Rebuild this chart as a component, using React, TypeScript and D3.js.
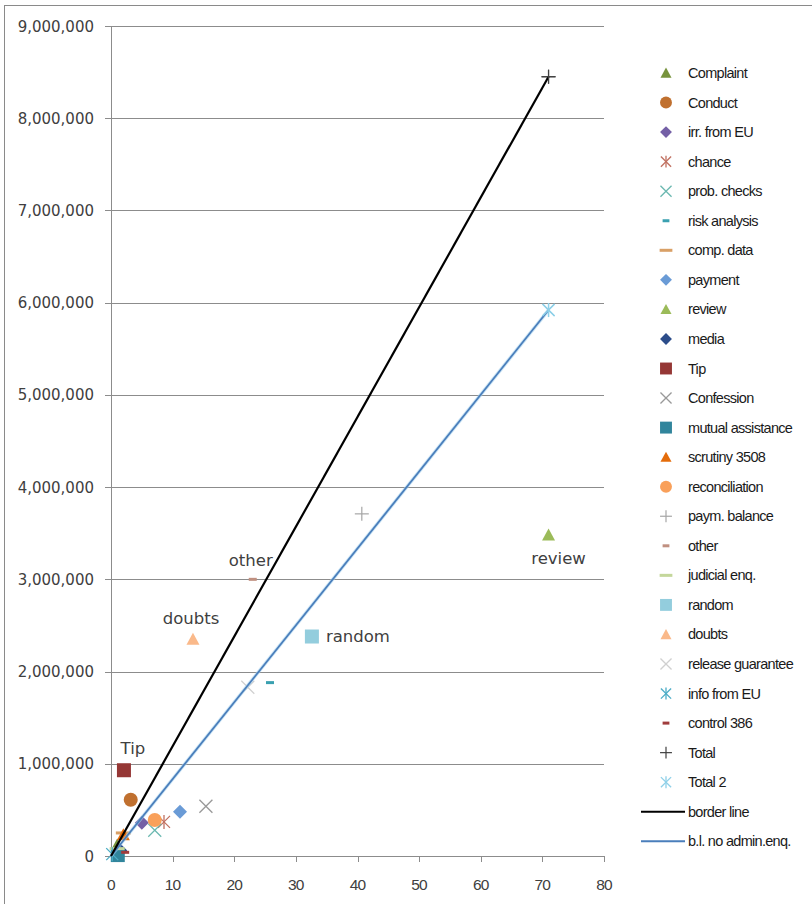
import React, { useEffect } from "react";
import * as d3 from "d3";

// ---------- data ----------
const seriesNames = [
  "Complaint", "Conduct", "irr. from EU", "chance", "prob. checks", "risk analysis",
  "comp. data", "payment", "review", "media", "Tip", "Confession", "mutual assistance",
  "scrutiny 3508", "reconciliation", "paym. balance", "other", "judicial enq.", "random",
  "doubts", "release guarantee", "info from EU", "control 386", "Total", "Total 2",
];
const seriesX = [1, 3.2, 5, 8.6, 7.1, 25.8, 2, 11.2, 71, 1.5, 2.1, 15.4, 1.1, 2, 7.1, 40.7, 23, 1, 32.6, 13.3, 22.2, 0.2, 2.3, 71, 71];
const seriesY = [120000, 610000, 360000, 370000, 280000, 1880000, 250000, 480000, 3480000, 60000, 930000, 540000, 10000, 230000, 390000, 3710000, 3000000, 80000, 2380000, 2350000, 1830000, 20000, 40000, 8450000, 5920000];

const borderLineX = [0, 71];
const borderLineY = [0, 8450000];
const noAdminLineX = [0, 71];
const noAdminLineY = [0, 5920000];

const labelledSeries = ["Tip", "other", "doubts", "random", "review"];

const xTicks = [0, 10, 20, 30, 40, 50, 60, 70, 80];
const yTicks = [0, 1000000, 2000000, 3000000, 4000000, 5000000, 6000000, 7000000, 8000000, 9000000];

// ---------- styles ----------
type Shape = "tri" | "circle" | "diamond" | "ast" | "x" | "sdash" | "ldash" | "square" | "plus";
const styles: Record<string, { shape: Shape; color: string }> = {
  "Complaint": { shape: "tri", color: "#77933c" },
  "Conduct": { shape: "circle", color: "#c0702f" },
  "irr. from EU": { shape: "diamond", color: "#7460a6" },
  "chance": { shape: "ast", color: "#c07060" },
  "prob. checks": { shape: "x", color: "#6ab8b0" },
  "risk analysis": { shape: "sdash", color: "#3aa0b0" },
  "comp. data": { shape: "ldash", color: "#d9a066" },
  "payment": { shape: "diamond", color: "#6a9bd6" },
  "review": { shape: "tri", color: "#9bbb59" },
  "media": { shape: "diamond", color: "#2c4d8a" },
  "Tip": { shape: "square", color: "#953735" },
  "Confession": { shape: "x", color: "#999999" },
  "mutual assistance": { shape: "square", color: "#31859c" },
  "scrutiny 3508": { shape: "tri", color: "#e46c0a" },
  "reconciliation": { shape: "circle", color: "#f9a05a" },
  "paym. balance": { shape: "plus", color: "#a6a6a6" },
  "other": { shape: "sdash", color: "#c09080" },
  "judicial enq.": { shape: "ldash", color: "#c4d79b" },
  "random": { shape: "square", color: "#93cddd" },
  "doubts": { shape: "tri", color: "#fab98a" },
  "release guarantee": { shape: "x", color: "#d0d0d0" },
  "info from EU": { shape: "ast", color: "#4bacc6" },
  "control 386": { shape: "sdash", color: "#a03c3c" },
  "Total": { shape: "plus", color: "#404040" },
  "Total 2": { shape: "ast", color: "#8fd0e8" },
};

const W = 812;
const H = 904;
const plotLeft = 111;
const plotRight = 604;
const plotTop = 26;
const plotBottom = 856;

function Marker({ shape, color, cx, cy, s = 1 }: { shape: Shape; color: string; cx: number; cy: number; s?: number }) {
  const k = s;
  switch (shape) {
    case "tri":
      return <path d={`M${cx},${cy - 6.5 * k} L${cx + 6.5 * k},${cy + 5.5 * k} L${cx - 6.5 * k},${cy + 5.5 * k} Z`} fill={color} />;
    case "circle":
      return <circle cx={cx} cy={cy} r={7 * k} fill={color} />;
    case "diamond":
      return <path d={`M${cx},${cy - 7 * k} L${cx + 7 * k},${cy} L${cx},${cy + 7 * k} L${cx - 7 * k},${cy} Z`} fill={color} />;
    case "square":
      return <rect x={cx - 7 * k} y={cy - 7 * k} width={14 * k} height={14 * k} fill={color} />;
    case "x":
      return (
        <g stroke={color} strokeWidth={1.3}>
          <line x1={cx - 6.5 * k} y1={cy - 6.5 * k} x2={cx + 6.5 * k} y2={cy + 6.5 * k} />
          <line x1={cx - 6.5 * k} y1={cy + 6.5 * k} x2={cx + 6.5 * k} y2={cy - 6.5 * k} />
        </g>
      );
    case "ast":
      return (
        <g stroke={color} strokeWidth={1.3}>
          <line x1={cx - 6 * k} y1={cy - 6 * k} x2={cx + 6 * k} y2={cy + 6 * k} />
          <line x1={cx - 6 * k} y1={cy + 6 * k} x2={cx + 6 * k} y2={cy - 6 * k} />
          <line x1={cx} y1={cy - 7 * k} x2={cx} y2={cy + 7 * k} />
        </g>
      );
    case "plus":
      return (
        <g stroke={color} strokeWidth={1.2}>
          <line x1={cx - 7 * k} y1={cy} x2={cx + 7 * k} y2={cy} />
          <line x1={cx} y1={cy - 7 * k} x2={cx} y2={cy + 7 * k} />
        </g>
      );
    case "sdash":
      return <rect x={cx - 4 * k} y={cy - 1.5} width={8 * k} height={3} fill={color} />;
    case "ldash":
      return <rect x={cx - 7.5 * k} y={cy - 1.5} width={15 * k} height={3} fill={color} />;
  }
  return null;
}

export default function App() {
  useEffect(() => {
    document.body.style.margin = "0";
  }, []);

  const x = d3.scaleLinear().domain([0, 80]).range([plotLeft, plotRight]);
  const y = d3.scaleLinear().domain([0, 9000000]).range([plotBottom, plotTop]);
  const fmt = d3.format(",");
  const line = d3.line<[number, number]>().x((d) => x(d[0])).y((d) => y(d[1]));

  const borderPts = borderLineX.map((v, i) => [v, borderLineY[i]] as [number, number]);
  const noAdminPts = noAdminLineX.map((v, i) => [v, noAdminLineY[i]] as [number, number]);

  const legendX = 666;
  const legendY0 = 73;
  const legendStep = 29.55;
  const legendItems = [...seriesNames, "border line", "b.l. no admin.enq."];

  const labelFont = "'DejaVu Sans', Verdana, sans-serif";
  const legendFont = "'Liberation Sans', Arial, sans-serif";

  return (
    <svg width={W} height={H} style={{ position: "absolute", left: 0, top: 0, background: "#fff" }}>
      <rect x={0} y={0} width={W} height={H} fill="#fff" />
      <rect x={4.5} y={5.5} width={W + 5} height={H + 5} fill="none" stroke="#8a8a8a" strokeWidth={1} />

      {/* gridlines */}
      {yTicks.filter((t) => t > 0).map((t) => (
        <line key={"g" + t} x1={plotLeft} x2={plotRight} y1={Math.round(y(t)) + 0.5} y2={Math.round(y(t)) + 0.5} stroke="#8c8c8c" strokeWidth={1} />
      ))}

      {/* axes */}
      <line x1={plotLeft + 0.5} x2={plotLeft + 0.5} y1={plotTop} y2={plotBottom} stroke="#8c8c8c" />
      <line x1={plotLeft} x2={plotRight} y1={plotBottom + 0.5} y2={plotBottom + 0.5} stroke="#8c8c8c" />
      {yTicks.map((t) => (
        <g key={"yt" + t}>
          <line x1={plotLeft - 6} x2={plotLeft} y1={Math.round(y(t)) + 0.5} y2={Math.round(y(t)) + 0.5} stroke="#8c8c8c" />
          <text x={94} y={y(t) + 5.5} textAnchor="end" fontFamily={labelFont} fontSize={15} fill="#404040">
            {fmt(t)}
          </text>
        </g>
      ))}
      {xTicks.map((t) => (
        <g key={"xt" + t}>
          <line x1={Math.round(x(t)) + 0.5} x2={Math.round(x(t)) + 0.5} y1={plotBottom} y2={plotBottom + 6} stroke="#8c8c8c" />
          <text x={x(t)} y={890} textAnchor="middle" fontFamily={legendFont} fontSize={15.5} letterSpacing={-0.8} fill="#404040">
            {t}
          </text>
        </g>
      ))}

      {/* series markers */}
      {seriesNames.map((n, i) => (
        <Marker key={n} shape={styles[n].shape} color={styles[n].color} cx={x(seriesX[i])} cy={y(seriesY[i])} />
      ))}

      {/* lines */}
      <path d={line(noAdminPts) || ""} fill="none" stroke="#a9d4ee" strokeWidth={3.5} opacity={0.6} />
      <path d={line(noAdminPts) || ""} fill="none" stroke="#4a7ebb" strokeWidth={1.8} />
      <path d={line(borderPts) || ""} fill="none" stroke="#000" strokeWidth={2.2} />
      <Marker shape="plus" color="#404040" cx={x(seriesX[23])} cy={y(seriesY[23])} />
      <Marker shape="ast" color="#8fd0e8" cx={x(seriesX[24])} cy={y(seriesY[24])} />

      {/* data labels */}
      {labelledSeries.map((n) => {
        const i = seriesNames.indexOf(n);
        const px = x(seriesX[i]);
        const py = y(seriesY[i]);
        let lx = px, ly = py - 14, anchor: "middle" | "start" = "middle";
        if (n === "random") { lx = px + 14; ly = py + 5; anchor = "start"; }
        if (n === "review") { lx = px + 10; ly = py + 29; }
        if (n === "Tip") { lx = px + 9; ly = py - 16; }
        if (n === "other") { lx = px - 2; ly = py - 13; }
        if (n === "doubts") { lx = px - 2; ly = py - 15; }
        return (
          <text key={"l" + n} x={lx} y={ly} textAnchor={anchor} fontFamily={labelFont} fontSize={16.5} fill="#404040">
            {n}
          </text>
        );
      })}

      {/* legend */}
      {legendItems.map((n, i) => {
        const ly = legendY0 + i * legendStep;
        let mark: React.ReactNode;
        if (n === "border line") {
          mark = <line x1={legendX - 25} x2={legendX + 19} y1={ly} y2={ly} stroke="#000" strokeWidth={2} />;
        } else if (n === "b.l. no admin.enq.") {
          mark = <line x1={legendX - 25} x2={legendX + 19} y1={ly} y2={ly} stroke="#4a7ebb" strokeWidth={2} />;
        } else {
          mark = <Marker shape={styles[n].shape} color={styles[n].color} cx={legendX} cy={ly} s={0.85} />;
        }
        return (
          <g key={"lg" + n}>
            {mark}
            <text x={688} y={ly + 5} fontFamily={legendFont} fontSize={14.5} letterSpacing={-0.7} fill="#1a1a1a">
              {n}
            </text>
          </g>
        );
      })}
    </svg>
  );
}
